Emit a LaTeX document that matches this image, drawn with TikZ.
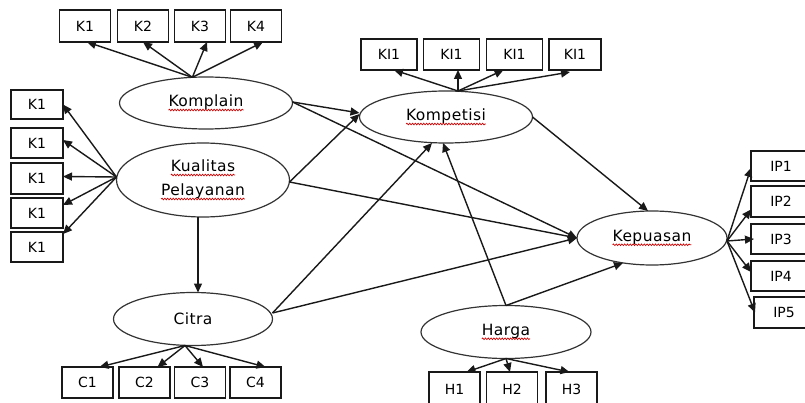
\documentclass[tikz,border=0pt]{standalone}
\usepackage{fontspec}
\setmainfont{DejaVu Sans}
\newfontfamily\ellfont[LetterSpace=3]{DejaVu Sans}
\usetikzlibrary{arrows.meta,shapes.geometric,decorations.pathmorphing}
\newcommand\sqg[1]{\tikz[baseline=(sq.base)]{\node[shape=rectangle,draw=none,fill=none,inner sep=0pt,outer sep=0pt,minimum width=0pt,minimum height=0pt] (sq) {#1};\draw[red!80!black,line width=0.7pt,decorate,decoration={snake,amplitude=0.8pt,segment length=2.8pt}] ([yshift=-3.4pt]sq.base west) -- ([yshift=-3.4pt]sq.base east);}}
\begin{document}
\begin{tikzpicture}[x=1pt,y=-1pt,
  ell/.style={ellipse,draw=black!80,line width=1.2pt,inner sep=0pt,outer sep=0pt,font=\ellfont\fontsize{15.5}{24}\selectfont,align=center},
  ind/.style={rectangle,draw=black!90,line width=1.5pt,inner sep=0pt,outer sep=0pt,minimum width=51pt,minimum height=31pt,font=\fontsize{14}{16}\selectfont},
  arr/.style={draw=black!90,line width=1.4pt,-{Triangle[length=9pt,width=8pt]}}]
\useasboundingbox (0,0) rectangle (805,403);
\fill[white] (0,0) rectangle (805,403);

% latent variables
\node[ell,minimum width=173pt,minimum height=52pt] (komplain) at (206,103) {\sqg{Komplain}};
\node[ell,minimum width=173pt,minimum height=74pt] (kualitas) at (203,180) {\sqg{Kualitas}\\\sqg{Pelayanan}};
\node[ell,minimum width=159pt,minimum height=53pt] (citra) at (193,319) {Citra};
\node[ell,minimum width=173pt,minimum height=52pt] (kompetisi) at (446,117) {\sqg{Kompetisi}};
\node[ell,minimum width=150pt,minimum height=54pt] (kepuasan) at (652,238) {\sqg{Kepuasan}};
\node[ell,minimum width=170pt,minimum height=53pt] (harga) at (506,332) {\sqg{Harga}};

% indicators: Komplain
\node[ind,minimum height=32pt] (ka1) at (85,26) {K1};
\node[ind,minimum height=32pt] (ka2) at (143,26) {K2};
\node[ind,minimum height=32pt] (ka3) at (200,26) {K3};
\node[ind,minimum height=32pt] (ka4) at (256,26) {K4};
% indicators: Kualitas
\node[ind,minimum width=52pt,minimum height=29pt] (lk1) at (37,104.5) {K1};
\node[ind,minimum width=52pt,minimum height=30pt] (lk2) at (37,143) {K1};
\node[ind,minimum width=52pt,minimum height=31pt] (lk3) at (37,178.5) {K1};
\node[ind,minimum width=52pt,minimum height=30pt] (lk4) at (37,213) {K1};
\node[ind,minimum width=52pt,minimum height=30pt] (lk5) at (37,247) {K1};
% indicators: Kompetisi
\node[ind,minimum width=56pt] (ki1) at (389,54.5) {KI1};
\node[ind,minimum width=56pt] (ki2) at (451.5,54.5) {KI1};
\node[ind,minimum width=56pt] (ki3) at (514.5,54.5) {KI1};
\node[ind,minimum width=52pt] (ki4) at (575,54.5) {KI1};
% indicators: Kepuasan
\node[ind,minimum width=60pt,minimum height=30pt] (ip1) at (781,166) {IP1};
\node[ind,minimum width=60pt,minimum height=31pt] (ip2) at (781,201.5) {IP2};
\node[ind,minimum width=60pt,minimum height=30pt] (ip3) at (781,239) {IP3};
\node[ind,minimum width=60pt,minimum height=30pt] (ip4) at (781,276) {IP4};
\node[ind,minimum width=60pt,minimum height=31pt] (ip5) at (784,312.5) {IP5};
% indicators: Citra
\node[ind] (c1) at (87.5,382.5) {C1};
\node[ind] (c2) at (144.5,382.5) {C2};
\node[ind] (c3) at (200,382.5) {C3};
\node[ind] (c4) at (255.5,382.5) {C4};
% indicators: Harga
\node[ind,minimum height=38pt] (h1) at (454.5,391) {\raisebox{3pt}{H1}};
\node[ind,minimum height=38pt] (h2) at (512,391) {\raisebox{3pt}{H2}};
\node[ind,minimum height=38pt] (h3) at (571.5,391) {\raisebox{3pt}{H3}};

% outer loadings
\coordinate (kpo) at (komplain.118);
\draw[arr] (kpo) -- ([xshift=2pt]ka1.south);
\draw[arr] (kpo) -- (ka2.south);
\draw[arr] (kpo) -- ([xshift=7pt]ka3.south);
\draw[arr] (kpo) -- ([xshift=7pt]ka4.south);

\coordinate (kuo) at ([yshift=3pt]kualitas.west);
\draw[arr] (kuo) -- (lk1.east);
\draw[arr] (kuo) -- ([yshift=3pt]lk2.east);
\draw[arr] (kuo) -- ([yshift=2pt]lk3.east);
\draw[arr] (kuo) -- ([yshift=8pt]lk4.east);
\draw[arr] (kuo) -- ([yshift=13pt]lk5.east);

\coordinate (kmo) at ([xshift=12pt]kompetisi.north);
\draw[arr] (kmo) -- ([xshift=5pt]ki1.south);
\draw[arr] (kmo) -- ([xshift=6.5pt]ki2.south);
\draw[arr] (kmo) -- ([xshift=-11pt]ki3.south);
\draw[arr] (kmo) -- ([xshift=-5pt,yshift=-2pt]ki4.south);

\coordinate (kpu) at ([yshift=-3pt]kepuasan.east);
\draw[arr] (kpu) -- ([yshift=-2pt]ip1.west);
\draw[arr] (kpu) -- ([yshift=-8pt]ip2.west);
\draw[arr] (kpu) -- ([xshift=3pt]ip3.west);
\draw[arr] (kpu) -- ([yshift=4pt]ip4.west);
\draw[arr] (kpu) -- ([xshift=1pt]ip5.west);

\coordinate (cto) at ([xshift=-8pt]citra.south);
\draw[arr] (cto) -- ([xshift=12pt]c1.north);
\draw[arr] (cto) -- ([xshift=13pt]c2.north);
\draw[arr] (cto) -- ([xshift=3pt]c3.north);
\draw[arr] (cto) -- ([xshift=10pt]c4.north);

\coordinate (hgo) at (harga.south);
\draw[arr] (hgo) -- ([xshift=12pt]h1.north);
\draw[arr] (hgo) -- ([xshift=-2pt]h2.north);
\draw[arr] (hgo) -- ([xshift=-2pt]h3.north);

% structural paths
\draw[arr] ([xshift=-5pt]kualitas.south) -- ([xshift=5pt]citra.north);
\draw[arr] ([yshift=1pt]komplain.east) -- ([yshift=4pt]kompetisi.west);
\draw[arr] ([yshift=-2pt]kualitas.east) -- ([yshift=3pt]kompetisi.west);
\draw[arr] ([yshift=1pt]komplain.east) -- (kepuasan.west);
\draw[arr] ([yshift=-2pt]kualitas.east) -- (kepuasan.west);
\draw[arr] ([yshift=6pt]citra.east) -- ([xshift=-14pt]kompetisi.south);
\draw[arr] ([yshift=6pt]citra.east) -- (kepuasan.west);
\draw[arr] (harga.north) -- ([xshift=-3pt]kompetisi.south);
\draw[arr] (harga.north) -- ([xshift=-29pt,yshift=2pt]kepuasan.south);
\draw[arr] (kompetisi.east) -- ([xshift=-4pt]kepuasan.north);
\end{tikzpicture}
\end{document}
